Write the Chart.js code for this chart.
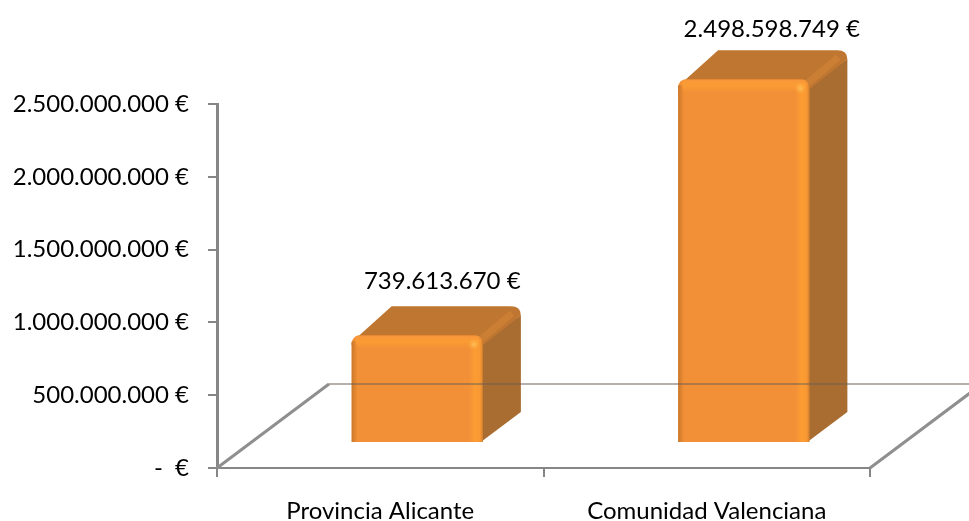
<!DOCTYPE html>
<html>
<head>
<meta charset="utf-8">
<style>
  html, body { margin: 0; padding: 0; background: #fff; overflow: hidden; }
  canvas { display: block; }
</style>
<script src="https://cdn.jsdelivr.net/npm/chart.js@4"></script>
</head>
<body>
<canvas id="barChart" width="969" height="521"></canvas>
<script>
const categories = ["Provincia Alicante", "Comunidad Valenciana"];
const values = [739613670, 2498598749];
const yMax = 2500000000;
const yStep = 500000000;

const FONT = { family: "Lato, Carlito, sans-serif", size: 24 };
const AXIS_COLOR = "#868686";

// floor of the 3d box and the offset of the bars on it
const FLOOR_DX = 112;
const FLOOR_DY = -84;
const BAR_SHIFT_X = 37;
const BAR_SHIFT_Y = -25;
const DEPTH_X = 38;
const DEPTH_Y = -30;
const labelOffsets = [[25, -54], [28, -50]];

function euro(v) {
  return `${String(Math.round(v)).replace(/\B(?=(\d{3})+$)/g, ".")} €`;
}

function barBox(el) {
  return {
    l: el.x - el.width / 2 + BAR_SHIFT_X,
    r: el.x + el.width / 2 + BAR_SHIFT_X,
    t: el.y + BAR_SHIFT_Y,
    b: el.base + BAR_SHIFT_Y
  };
}

function drawDepthFaces(ctx, box) {
  const { l, r, t, b } = box;
  // side
  ctx.fillStyle = "#a96c31";
  ctx.beginPath();
  ctx.moveTo(r - 4, t + 8);
  ctx.lineTo(r + DEPTH_X, t + DEPTH_Y + 10);
  ctx.lineTo(r + DEPTH_X, b + DEPTH_Y);
  ctx.lineTo(r - 2, b);
  ctx.closePath();
  ctx.fill();
  // top
  ctx.fillStyle = "#bf7631";
  ctx.beginPath();
  ctx.moveTo(l, t + 7);
  ctx.lineTo(l + DEPTH_X + 2, t + DEPTH_Y + 1);
  ctx.lineTo(r + DEPTH_X - 10, t + DEPTH_Y + 1);
  ctx.quadraticCurveTo(r + DEPTH_X, t + DEPTH_Y + 1, r + DEPTH_X, t + DEPTH_Y + 10);
  ctx.lineTo(r, t + 10);
  ctx.lineTo(l, t + 10);
  ctx.closePath();
  ctx.fill();
  // lit edge between top and side
  ctx.strokeStyle = "rgba(214,134,54,0.55)";
  ctx.lineWidth = 7;
  ctx.beginPath();
  ctx.moveTo(r - 3, t + 5);
  ctx.lineTo(r + DEPTH_X - 9, t + DEPTH_Y + 8);
  ctx.stroke();
}

function drawBevel(ctx, box) {
  const { l, r, t, b } = box;
  let g = ctx.createLinearGradient(l - 1, 0, l + 6, 0);
  g.addColorStop(0, "rgba(170,100,30,0.65)");
  g.addColorStop(1, "rgba(170,100,30,0)");
  ctx.fillStyle = g;
  ctx.fillRect(l, t + 6, 6, b - t - 6);

  g = ctx.createLinearGradient(r - 14, 0, r, 0);
  g.addColorStop(0, "rgba(255,160,50,0)");
  g.addColorStop(0.45, "rgba(255,160,50,0.8)");
  g.addColorStop(0.8, "rgba(255,160,50,0.5)");
  g.addColorStop(1, "rgba(190,115,40,0.7)");
  ctx.fillStyle = g;
  ctx.fillRect(r - 14, t + 4, 14, b - t - 4);

  g = ctx.createLinearGradient(0, t, 0, t + 13);
  g.addColorStop(0, "rgba(255,160,60,0.5)");
  g.addColorStop(0.5, "rgba(255,160,50,0.7)");
  g.addColorStop(1, "rgba(255,160,50,0)");
  ctx.fillStyle = g;
  ctx.fillRect(l + 4, t + 1, r - l - 8, 12);

  g = ctx.createRadialGradient(r - 9, t + 9, 0, r - 9, t + 9, 6);
  g.addColorStop(0, "rgba(255,196,96,0.9)");
  g.addColorStop(1, "rgba(255,170,60,0)");
  ctx.fillStyle = g;
  ctx.fillRect(r - 15, t + 3, 12, 12);
}

const box3d = {
  id: "box3d",
  beforeDatasetsDraw(chart) {
    const ctx = chart.ctx;
    const x = chart.scales.x;
    const y = chart.scales.y;
    const zero = y.getPixelForValue(0);

    // floor edges
    ctx.save();
    ctx.strokeStyle = "#8f8f8f";
    ctx.lineWidth = 3;
    ctx.beginPath();
    ctx.moveTo(x.left, zero);
    ctx.lineTo(x.left + FLOOR_DX, zero + FLOOR_DY);
    ctx.moveTo(x.right, zero);
    ctx.lineTo(x.right + FLOOR_DX, zero + FLOOR_DY);
    ctx.stroke();
    ctx.restore();

    ctx.save();
    chart.getDatasetMeta(0).data.forEach((el) => drawDepthFaces(ctx, barBox(el)));
    ctx.restore();

    // the front faces are the library's bars, moved onto the floor
    ctx.save();
    ctx.translate(BAR_SHIFT_X, BAR_SHIFT_Y);
  },
  afterDatasetsDraw(chart) {
    const ctx = chart.ctx;
    ctx.restore();

    const x = chart.scales.x;
    const y = chart.scales.y;
    const backY = y.getPixelForValue(0) + FLOOR_DY;

    ctx.save();
    const bars = chart.getDatasetMeta(0).data;
    bars.forEach((el) => drawBevel(ctx, barBox(el)));

    // back edge of the floor shows through the bars
    ctx.strokeStyle = "rgba(110,95,85,0.5)";
    ctx.lineWidth = 2;
    ctx.beginPath();
    ctx.moveTo(x.left + FLOOR_DX, backY);
    ctx.lineTo(chart.width, backY);
    ctx.stroke();

    ctx.fillStyle = "#000";
    ctx.font = `${FONT.size}px ${FONT.family}`;
    ctx.textAlign = "center";
    ctx.textBaseline = "middle";
    bars.forEach((el, i) => {
      const box = barBox(el);
      ctx.fillText(euro(values[i]), el.x + BAR_SHIFT_X + labelOffsets[i][0], box.t + labelOffsets[i][1]);
    });
    ctx.restore();
  }
};

new Chart(document.getElementById("barChart").getContext("2d"), {
  type: "bar",
  data: {
    labels: categories,
    datasets: [{
      data: values,
      backgroundColor: "#f29037",
      borderWidth: 0,
      borderSkipped: "bottom",
      borderRadius: { topLeft: 8, topRight: 8, bottomLeft: 1, bottomRight: 1 },
      barPercentage: 0.402,
      categoryPercentage: 1,
      clip: false
    }]
  },
  options: {
    responsive: false,
    animation: false,
    layout: { padding: { top: 104, right: 99, left: 0, bottom: 0 } },
    plugins: { legend: { display: false }, tooltip: { enabled: false } },
    scales: {
      x: {
        afterFit: (scale) => { scale.height = 53; },
        grid: { display: true, offset: true, drawOnChartArea: false, color: AXIS_COLOR, lineWidth: 2, tickLength: 9 },
        border: { color: AXIS_COLOR, width: 2 },
        ticks: { color: "#000", font: FONT, padding: 20, maxRotation: 0 }
      },
      y: {
        min: 0,
        max: yMax,
        afterFit: (scale) => { scale.width = 217; },
        grid: { display: true, drawOnChartArea: false, color: AXIS_COLOR, lineWidth: 2, tickLength: 9 },
        border: { color: AXIS_COLOR, width: 3 },
        ticks: {
          stepSize: yStep,
          color: "#000",
          font: FONT,
          padding: 19,
          callback: (v) => (v === 0 ? "-  €" : euro(v))
        }
      }
    }
  },
  plugins: [box3d]
});
</script>
</body>
</html>
